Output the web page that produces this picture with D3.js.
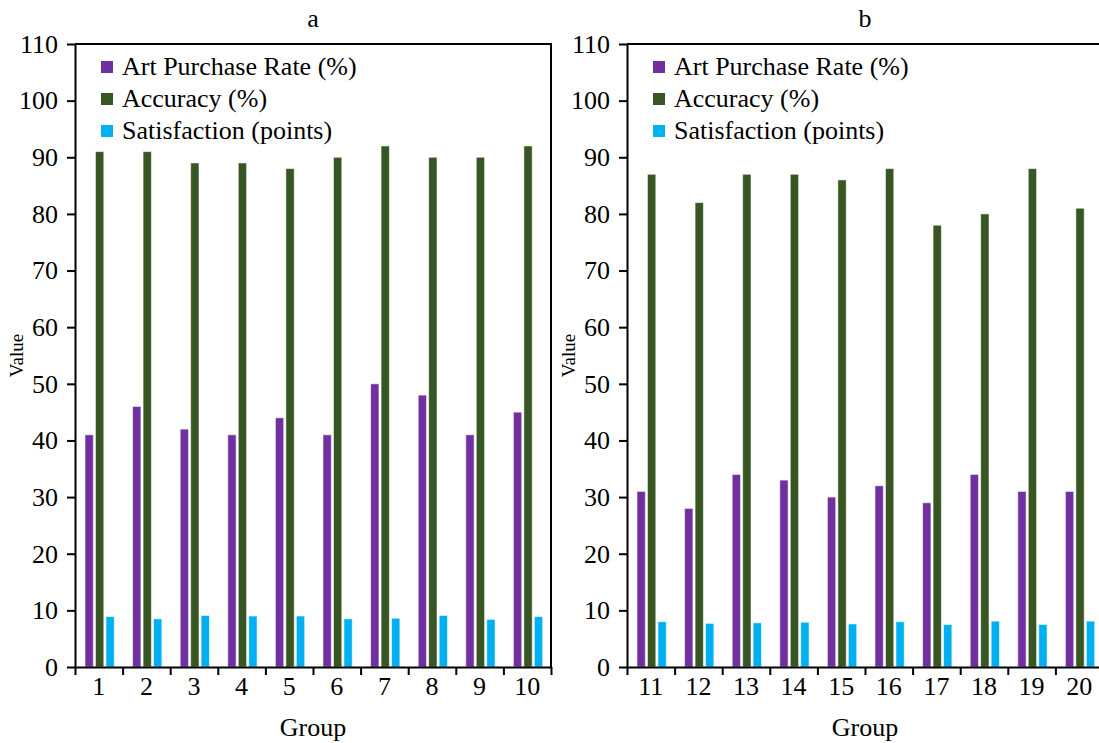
<!DOCTYPE html>
<html>
<head>
<meta charset="utf-8">
<script src="https://cdn.jsdelivr.net/npm/d3@7"></script>
<style>
  body { margin: 0; background: #fff; }
  svg { display: block; }
  .axis path, .axis line { stroke: #000; stroke-width: 2; }
</style>
</head>
<body>
<svg id="chart"></svg>
<script>
// Grouped bars, two panels

var width = 1099,
    height = 743,
    font = "'Liberation Serif', 'Times New Roman', Times, serif";

var series = ["Art Purchase Rate (%)", "Accuracy (%)", "Satisfaction (points)"];
var colors = ["#7030A0", "#375623", "#00B0F0"];
var yTicks = [0, 10, 20, 30, 40, 50, 60, 70, 80, 90, 100, 110];

var groupsA = ["1", "2", "3", "4", "5", "6", "7", "8", "9", "10"];
var purchaseA = [41, 46, 42, 41, 44, 41, 50, 48, 41, 45];
var accuracyA = [91, 91, 89, 89, 88, 90, 92, 90, 90, 92];
var satisfactionA = [8.9, 8.5, 9.1, 9.0, 9.0, 8.5, 8.6, 9.1, 8.4, 8.9];

var groupsB = ["11", "12", "13", "14", "15", "16", "17", "18", "19", "20"];
var purchaseB = [31, 28, 34, 33, 30, 32, 29, 34, 31, 31];
var accuracyB = [87, 82, 87, 87, 86, 88, 78, 80, 88, 81];
var satisfactionB = [8.0, 7.7, 7.8, 7.9, 7.6, 8.0, 7.5, 8.1, 7.5, 8.1];

var top_y = 44,
    bottom_y = 667;

var svg = d3.select("#chart")
    .attr("width", width)
    .attr("height", height)
    .attr("font-family", font);

var panels = [
  { title: "a", left: 75, right: 551, groups: groupsA, values: [purchaseA, accuracyA, satisfactionA] },
  { title: "b", left: 627, right: 1103, groups: groupsB, values: [purchaseB, accuracyB, satisfactionB] }
];

function styleAxis(a) {
  a.attr("font-family", font).attr("font-size", 26);
  a.selectAll("text").attr("fill", "#000");
}

panels.forEach(function(p) {
  var g = svg.append("g");

  var y = d3.scaleLinear().domain([0, 110]).range([bottom_y, top_y]);
  var x = d3.scaleBand().domain(p.groups).range([p.left, p.right]).padding(0);
  var bw = x.bandwidth();
  var xs = d3.scaleBand().domain(series)
      .range([0.21 * bw, 0.825 * bw])
      .paddingInner(0.205).paddingOuter(0);
  var edges = d3.scaleLinear().domain([0, p.groups.length]).range([p.left, p.right]);

  // bars
  p.groups.forEach(function(grp, i) {
    series.forEach(function(s, k) {
      var v = p.values[k][i];
      g.append("rect")
        .attr("x", x(grp) + xs(s))
        .attr("y", y(v))
        .attr("width", xs.bandwidth())
        .attr("height", y(0) - y(v))
        .attr("fill", colors[k])
        .attr("stroke", "rgba(255,255,255,0.55)")
        .attr("stroke-width", 1);
    });
  });

  // frame top and right
  g.append("path")
    .attr("d", "M" + p.left + "," + top_y + "H" + p.right + "V" + bottom_y)
    .attr("fill", "none")
    .attr("stroke", "#000")
    .attr("stroke-width", 2);

  // y axis
  g.append("g")
    .attr("class", "axis")
    .attr("transform", "translate(" + p.left + ",0)")
    .call(d3.axisLeft(y).tickValues(yTicks).tickSize(8).tickPadding(9).tickSizeOuter(0))
    .call(styleAxis);

  // x axis boundary ticks
  g.append("g")
    .attr("class", "axis")
    .attr("transform", "translate(0," + bottom_y + ")")
    .call(d3.axisBottom(edges).tickValues(d3.range(p.groups.length + 1)).tickSize(8).tickFormat("").tickSizeOuter(0));

  // x labels at group centres
  g.append("g")
    .attr("class", "axis")
    .attr("transform", "translate(0," + bottom_y + ")")
    .call(d3.axisBottom(x).tickSize(0).tickPadding(10))
    .call(styleAxis)
    .call(function(a) { a.select(".domain").remove(); });

  // titles
  g.append("text")
    .attr("x", (p.left + p.right) / 2)
    .attr("y", 27)
    .attr("text-anchor", "middle")
    .attr("font-size", 26)
    .text(p.title);

  g.append("text")
    .attr("x", (p.left + p.right) / 2)
    .attr("y", 736)
    .attr("text-anchor", "middle")
    .attr("font-size", 26)
    .text("Group");

  g.append("text")
    .attr("transform", "translate(" + (p.left - 52) + "," + ((top_y + bottom_y) / 2) + ") rotate(-90)")
    .attr("text-anchor", "middle")
    .attr("font-size", 19)
    .text("Value");

  // legend
  var lg = g.append("g").attr("transform", "translate(" + (p.left + 26) + ",67)");
  series.forEach(function(s, k) {
    lg.append("rect")
      .attr("x", 0).attr("y", k * 32 - 6)
      .attr("width", 12).attr("height", 12)
      .attr("fill", colors[k]);
    lg.append("text")
      .attr("x", 21).attr("y", k * 32 + 8)
      .attr("font-size", 26)
      .text(s);
  });
});
</script>
</body>
</html>
